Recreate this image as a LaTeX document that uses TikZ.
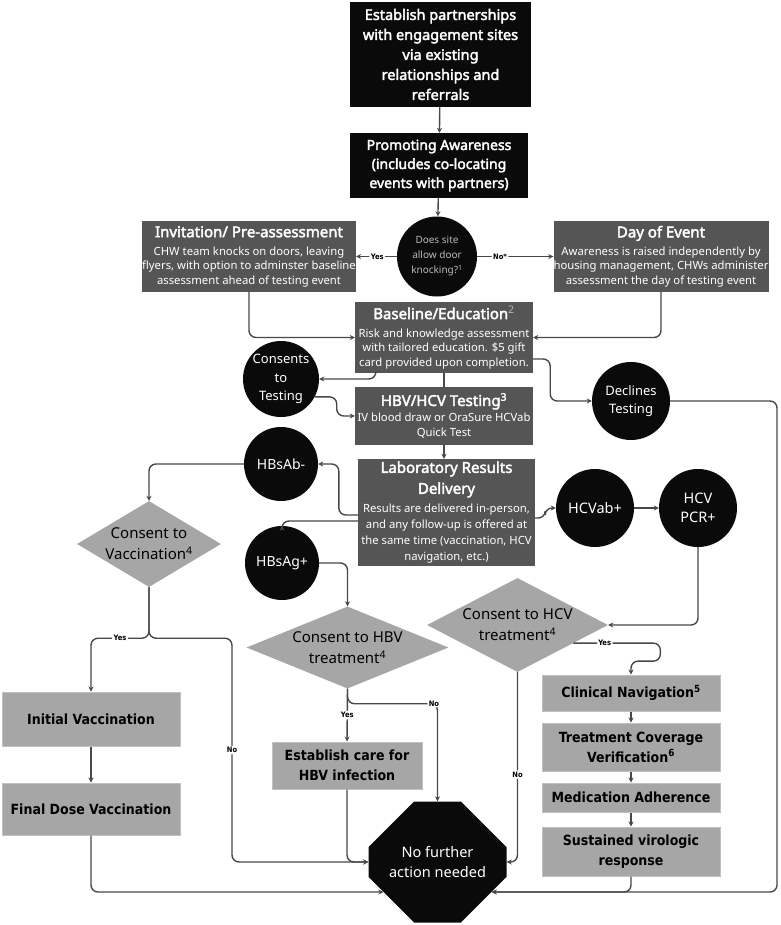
\documentclass[tikz,border=0pt]{standalone}
\usepackage{fontspec}
\setmainfont{Noto Sans}[AutoFakeBold=2.6]
\newfontfamily\condfont{DejaVu Sans Condensed}
\usetikzlibrary{positioning}
\usetikzlibrary{shapes.geometric, shapes.misc}
\usetikzlibrary{arrows.meta}

\definecolor{boxblack}{RGB}{10,10,10}
\definecolor{boxdark}{RGB}{85,85,85}
\definecolor{boxgray}{RGB}{166,166,166}
\definecolor{linegray}{RGB}{72,72,72}
\definecolor{knockgray}{RGB}{185,185,185}

\newcommand{\boxhead}{\bfseries\fontsize{15}{17}\selectfont}
\newcommand{\labhead}{\bfseries\fontsize{15}{21}\selectfont}

\tikzset{
  blackbox/.style={fill=boxblack, text=white, align=center, inner sep=0pt, font=\bfseries\fontsize{14.5}{20}\selectfont},
  darkbox/.style={fill=boxdark, text=white, align=center, inner sep=0pt, font=\fontsize{11.3}{14.5}\selectfont},
  graybox/.style={fill=boxgray, draw=boxgray!70!white, line width=1pt, text=black, align=center, inner sep=0pt, font=\condfont\bfseries\fontsize{14}{20}\selectfont},
  blob/.style={circle, fill=boxblack, text=white, align=center, inner sep=0pt, font=\fontsize{13}{18.5}\selectfont},
  choice/.style={diamond, fill=boxgray, text=black, align=center, inner sep=-10pt, font=\fontsize{15}{21}\selectfont},
  flow/.style={draw=linegray, line width=1.4pt, rounded corners=7pt, -{Stealth[length=5pt,width=5pt]}},
  link/.style={draw=linegray, line width=1.4pt, rounded corners=7pt},
  tag/.style={fill=white, inner sep=1.5pt, text=black, font=\condfont\bfseries\fontsize{7.5}{9}\selectfont},
}

\begin{document}
\begin{tikzpicture}[x=1pt,y=-1pt]
\fill[white] (0,0) rectangle (780,925);

\node[blackbox, minimum width=181pt, minimum height=105pt] (partner) at (440.5,54.5) {Establish partnerships\\with engagement sites\\via existing\\relationships and\\referrals};
\node[blackbox, minimum width=178pt, minimum height=65pt, font=\bfseries\fontsize{14}{19}\selectfont] (promote) at (439,165.5) {Promoting Awareness\\(includes co-locating\\events with partners)};
\node[blob, minimum size=80pt, text=knockgray, font=\fontsize{10}{15}\selectfont] (knock) at (437,256.5) {Does site\\allow door\\knocking?\textsuperscript{1}};
\node[darkbox, minimum width=212pt, minimum height=70pt] (invite) at (249,256.5) {{\boxhead Invitation/ Pre-assessment}\\[3.5pt]CHW team knocks on doors, leaving\\flyers, with option to adminster baseline\\assessment ahead of testing event};
\node[darkbox, minimum width=212pt, minimum height=71pt] (day) at (661,256.5) {{\boxhead Day of Event}\\[3.5pt]Awareness is raised independently by\\housing management, CHWs administer\\assessment the day of testing event};
\node[darkbox, minimum width=178pt, minimum height=71pt] (baseline) at (444,337.5) {{\boxhead Baseline/Education\textsuperscript{\color{knockgray}\mdseries 2}}\\[3.5pt]Risk and knowledge assessment\\with tailored education. \$5 gift\\card provided upon completion.};
\node[blob, minimum size=76pt] (consent) at (281,379) {Consents\\to\\Testing};
\node[blob, minimum size=78pt] (declines) at (631,401) {Declines\\Testing};
\node[darkbox, minimum width=178pt, minimum height=58pt, font=\fontsize{11.3}{15}\selectfont] (testing) at (444,416) {{\boxhead HBV/HCV Testing\textsuperscript{3}}\\[1pt]IV blood draw or OraSure HCVab\\Quick Test};
\node[darkbox, minimum width=177pt, minimum height=107pt, font=\fontsize{11.3}{16}\selectfont] (lab) at (446.5,512.5) {{\labhead Laboratory Results}\\[5pt]{\labhead Delivery}\\[3pt]Results are delivered in-person,\\and any follow-up is offered at\\the same time (vaccination, HCV\\navigation, etc.)};
\node[blob, minimum size=74pt, font=\fontsize{14}{18}\selectfont] (hbsab) at (281,464) {HBsAb-};
\node[blob, minimum size=74pt, font=\fontsize{14}{18}\selectfont] (hbsag) at (282,563) {HBsAg+};
\node[blob, minimum size=78pt, font=\fontsize{14.5}{18}\selectfont] (hcvab) at (595,508) {HCVab+};
\node[blob, minimum size=78pt, font=\fontsize{14.5}{19}\selectfont] (pcr) at (698,508) {HCV\\PCR+};
\node[choice, aspect=1.67, minimum width=144pt, minimum height=86pt] (vacc) at (149,544) {Consent to\\Vaccination\textsuperscript{4}};
\node[choice, aspect=2.46, minimum width=202pt, minimum height=82pt] (hbv) at (347.5,647.5) {Consent to HBV\\treatment\textsuperscript{4}};
\node[choice, aspect=1.93, minimum width=181pt, minimum height=94pt] (hcv) at (517.5,625) {Consent to HCV\\treatment\textsuperscript{4}};
\node[graybox, minimum width=178pt, minimum height=54pt] (init) at (91,719) {Initial Vaccination};
\node[graybox, minimum width=178pt, minimum height=52pt] (final) at (91,809) {Final Dose Vaccination};
\node[graybox, minimum width=150pt, minimum height=47pt] (est) at (347,765.5) {Establish care for\\HBV infection};
\node[graybox, minimum width=178pt, minimum height=36pt] (nav) at (631,693) {Clinical Navigation\textsuperscript{5}};
\node[graybox, minimum width=178pt, minimum height=48pt] (cover) at (631,747) {Treatment Coverage\\Verification\textsuperscript{6}};
\node[graybox, minimum width=178pt, minimum height=29pt] (adhere) at (631,797.5) {Medication Adherence};
\node[graybox, minimum width=178pt, minimum height=49pt] (svr) at (631,851.5) {Sustained virologic\\response};
\node[chamfered rectangle, chamfered rectangle xsep=30pt, chamfered rectangle ysep=30pt, fill=boxblack, text=white, align=center, inner sep=0pt, minimum width=138pt, minimum height=121pt, font=\fontsize{14.5}{20}\selectfont] (stop) at (437.5,862) {No further\\action needed};
\coordinate (vnoline) at (232,0);
\coordinate (rim) at (777,0);

\draw[flow] (partner) -- (promote);
\draw[flow] (promote) -- (knock);
\draw[flow] (knock) -- node[tag,pos=0.48]{Yes} (invite);
\draw[flow] (knock) -- node[tag,pos=0.3]{No*} (day);
\draw[flow] (invite.south) |- (baseline.west);
\draw[flow] (day.south) |- (baseline.east);
\draw[flow] ([xshift=21pt]baseline.south west) |- (consent.east);
\draw[flow] (consent.-28) -- ++(22,0) |- (testing.west);
\draw[link] (baseline.south) -- (testing.north);
\draw[flow] ([yshift=-21.5pt]baseline.east) -- ++(17,0) |- (declines.west);
\draw[flow] (testing.south) -- (testing.south |- lab.north);
\draw[flow] ([yshift=-2.5pt]lab.west) -- ++(-19,0) |- (hbsab.east);
\draw[flow] ([yshift=-8.5pt]lab.west) -| (hbsag.north);
\draw[flow] (hbsab.west) -| (vacc.north);
\draw[flow] (hbsag.east) -| (hbv.north);
\draw[flow] ([yshift=-5.5pt]lab.east) -- ++(10,0) |- (hcvab.west);
\draw[flow] (hcvab) -- (pcr);
\draw[flow] (pcr.south) |- (hcv.east);
\draw[flow] (hcv.-18) -- node[tag,pos=0.36]{Yes} ++(87,0) -- ++(0,18) -| (nav.north);
\draw[flow] (nav) -- (cover);
\draw[flow] (cover) -- (adhere);
\draw[flow] (adhere) -- (svr);
\draw[flow] (vacc.south) -- ++(0,51) -| node[tag,pos=0.25]{Yes} (init.north);
\draw[flow] (vacc.south) -- ++(0,51) -| node[tag,pos=0.75]{No} (vnoline |- stop.west) -- (stop.west);
\draw[flow] (init) -- (final);
\draw[flow] (final.south) |- (stop.209);
\draw[flow] (hbv.south) -- node[tag]{Yes} (est.north);
\draw[flow] (hbv.south) -- ++(0,15) -| node[tag,pos=0.48]{No} (stop.north);
\draw[flow] (est.south) |- (stop.west);
\draw[flow] (hcv.south) |- node[tag,pos=0.27]{No} (stop.east);
\draw[flow] (svr.south) |- (stop.-29);
\draw[flow] (declines.east) -| (rim |- stop.-29) -- (stop.-29);

\end{tikzpicture}
\end{document}
